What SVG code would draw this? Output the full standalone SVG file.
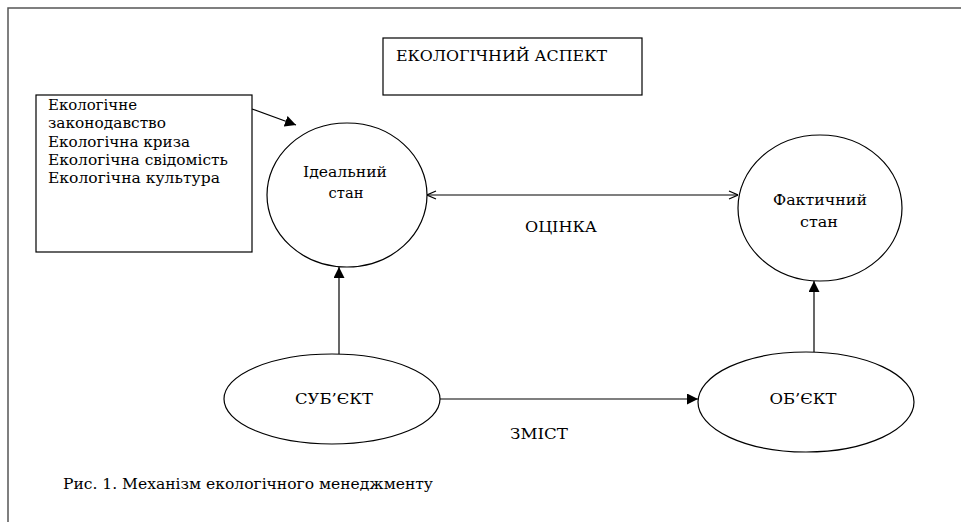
<svg xmlns="http://www.w3.org/2000/svg" width="961" height="522" viewBox="0 0 961 522">
<style>
text{font-family:"DejaVu Serif","Liberation Serif",serif;font-size:14px;fill:#000}
.c{text-anchor:middle}
.n{fill:#fff;stroke:#000;stroke-width:1.2}
.e{fill:none;stroke:#000;stroke-width:1.2}
</style>
<defs>
<marker id="fa" viewBox="0 0 10 10" refX="10" refY="5" markerWidth="11" markerHeight="11" markerUnits="userSpaceOnUse" orient="auto"><path d="M0,0 L10,5 L0,10 z" fill="#000"/></marker>
<marker id="oa" viewBox="0 0 10 10" refX="10" refY="5" markerWidth="10" markerHeight="10" markerUnits="userSpaceOnUse" orient="auto-start-reverse"><path d="M1,1 L10,5 L1,9" fill="none" stroke="#000" stroke-width="1.2"/></marker>
</defs>
<rect width="961" height="522" fill="#fff"/>
<rect x="8" y="8" width="980" height="540" fill="none" stroke="#555" stroke-width="1.5"/>

<g id="title">
<rect class="n" x="383" y="38" width="259" height="57"/>
<text x="396" y="61" textLength="211" lengthAdjust="spacingAndGlyphs">ЕКОЛОГІЧНИЙ АСПЕКТ</text>
</g>

<g id="factors">
<rect class="n" x="36" y="95" width="216" height="157"/>
<text x="48" y="110" textLength="89" lengthAdjust="spacingAndGlyphs">Екологічне</text>
<text x="48" y="128" textLength="118" lengthAdjust="spacingAndGlyphs">законодавство</text>
<text x="48" y="147" textLength="142" lengthAdjust="spacingAndGlyphs">Екологічна криза</text>
<text x="48" y="165" textLength="180" lengthAdjust="spacingAndGlyphs">Екологічна свідомість</text>
<text x="48" y="183" textLength="172" lengthAdjust="spacingAndGlyphs">Екологічна культура</text>
</g>

<g id="ideal">
<ellipse class="n" cx="347" cy="195" rx="80" ry="72"/>
<text class="c" x="345" y="177" textLength="84" lengthAdjust="spacingAndGlyphs">Ідеальний</text>
<text class="c" x="346" y="198" textLength="35" lengthAdjust="spacingAndGlyphs">стан</text>
</g>

<g id="fact">
<ellipse class="n" cx="820" cy="208" rx="82" ry="73"/>
<text class="c" x="820" y="205" textLength="94" lengthAdjust="spacingAndGlyphs">Фактичний</text>
<text class="c" x="819" y="227" textLength="38" lengthAdjust="spacingAndGlyphs">стан</text>
</g>

<g id="subject">
<ellipse class="n" cx="332" cy="399" rx="108" ry="45"/>
<text class="c" x="334" y="404" textLength="78" lengthAdjust="spacingAndGlyphs">СУБ’ЄКТ</text>
</g>

<g id="object">
<ellipse class="n" cx="806" cy="402" rx="108" ry="50"/>
<text class="c" x="803" y="404" textLength="67" lengthAdjust="spacingAndGlyphs">ОБ’ЄКТ</text>
</g>

<g id="connectors">
<line class="e" x1="252" y1="109" x2="296" y2="125" marker-end="url(#fa)"/>
<line class="e" x1="427" y1="195" x2="738" y2="195" marker-start="url(#oa)" marker-end="url(#oa)"/>
<line class="e" x1="339" y1="354" x2="339" y2="267" marker-end="url(#fa)"/>
<line class="e" x1="440" y1="399" x2="698" y2="399" marker-end="url(#fa)"/>
<line class="e" x1="814" y1="352" x2="814" y2="281" marker-end="url(#fa)"/>
</g>

<text class="c" x="561" y="232" textLength="72" lengthAdjust="spacingAndGlyphs">ОЦІНКА</text>
<text class="c" x="539" y="439" textLength="58" lengthAdjust="spacingAndGlyphs">ЗМІСТ</text>
<text x="63" y="489" textLength="370" lengthAdjust="spacingAndGlyphs">Рис. 1.  Механізм екологічного менеджменту</text>
</svg>
